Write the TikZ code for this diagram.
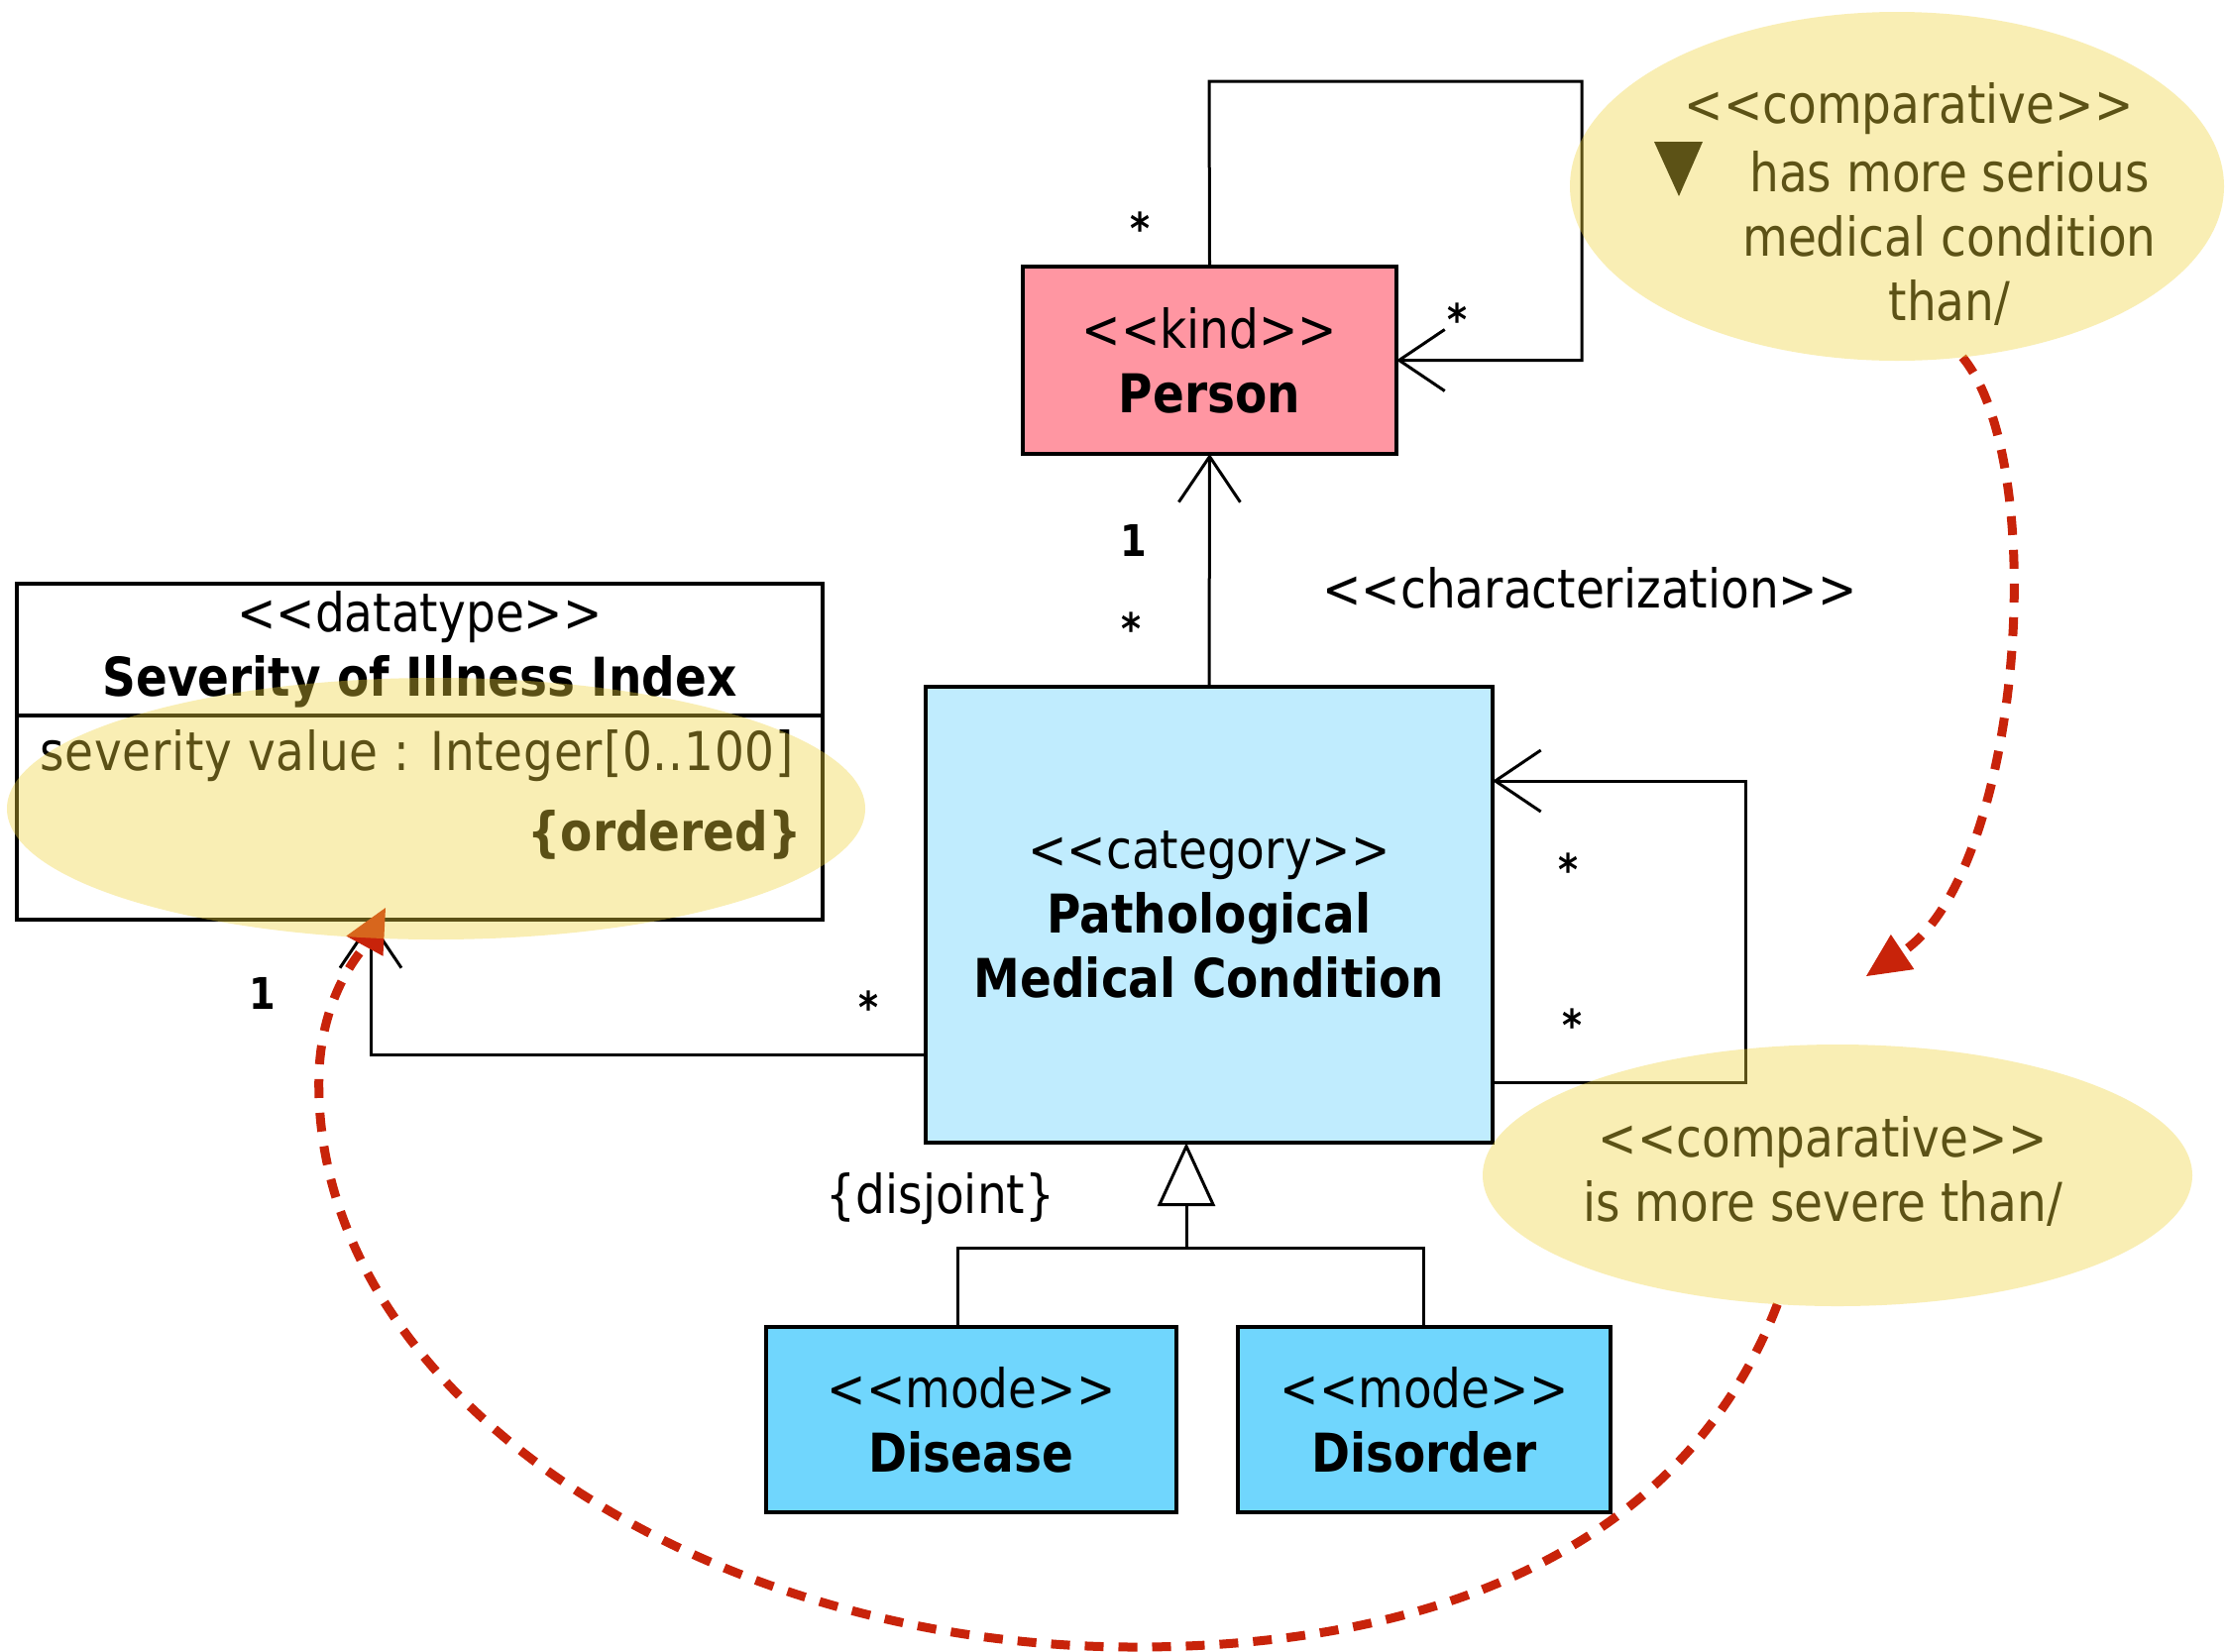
\documentclass[tikz,border=0pt]{standalone}
\usepackage{fontspec}
\setmainfont{DejaVu Sans}[FakeStretch=0.87]
\usetikzlibrary{arrows.meta,shapes.geometric,calc}
\pgfdeclarelayer{front}
\pgfsetlayers{main,front}
\definecolor{kindpink}{RGB}{255,150,162}
\definecolor{catblue}{RGB}{192,236,254}
\definecolor{modeblue}{RGB}{112,214,253}
\definecolor{notefill}{RGB}{240,212,60}
\definecolor{notetext}{RGB}{92,82,22}
\definecolor{linkred}{RGB}{200,35,10}
\newcommand{\stereo}[1]{{<}{<}#1{>}{>}}
\begin{document}
\begin{tikzpicture}[x=1pt,y=-1pt,
  txt/.style={font=\fontsize{54}{65}\selectfont, inner sep=0pt, align=center},
  cls/.style={draw=black, line width=3.6pt, txt, outer sep=0pt},
  mult/.style={font=\fontsize{44}{50}\selectfont\bfseries, inner sep=0pt},
  assoc/.style={line width=3pt, -{Straight Barb[length=46pt,width=62pt,line width=3pt]}},
  plain/.style={line width=3pt},
  gen/.style={line width=3pt, -{Triangle[open,length=64pt,width=58pt,line width=3pt]}},
  redlink/.style={draw=linkred, line width=9pt, dash pattern=on 19pt off 15pt,
    -{Triangle[length=44pt,width=42pt,line width=1pt]}},
  note/.style={ellipse, fill=notefill, fill opacity=0.38, draw=none, inner sep=0pt, outer sep=0pt},
  notetxt/.style={txt, text=notetext}
]
\fill[white] (0,0) rectangle (2245,1666);
\useasboundingbox (0,0) rectangle (2245,1666);

% classes
\node[cls, fill=kindpink, minimum width=377pt, minimum height=189pt] (person) at (1220.5,363.5)
  {\stereo{kind}\\\textbf{Person}};
\node[cls, fill=catblue, minimum width=572pt, minimum height=460pt] (pmc) at (1220,923)
  {\stereo{category}\\\textbf{Pathological}\\\textbf{Medical Condition}};
\node[cls, fill=modeblue, minimum width=414pt, minimum height=187pt] (disease) at (980,1432.5)
  {\stereo{mode}\\\textbf{Disease}};
\node[cls, fill=modeblue, minimum width=376pt, minimum height=187pt] (disorder) at (1437,1432.5)
  {\stereo{mode}\\\textbf{Disorder}};

% datatype with its attribute compartment
\node[cls, fill=white, minimum width=813pt, minimum height=339pt] (sev) at (423.5,758.5) {};
\coordinate (sevdiv) at (0,722);
\draw[line width=3.6pt] (sev.west |- sevdiv) -- (sev.east |- sevdiv);
\node[txt] (sevhead) at (423.5,655) {\stereo{datatype}\\\textbf{Severity of Illness Index}};
\node[txt, anchor=west] (sevattr) at (40,763) {\addfontfeature{LetterSpace=1.5}severity value : Integer[0..100]};
\node[txt, anchor=east] (sevord) at (809,842) {\textbf{\{ordered\}}};

% Person self association
\coordinate (pa1) at (1220,82);
\coordinate (pa2) at (1596,82);
\draw[assoc] (person.north) -- (pa1) -- (pa2) |- (person.east);
\node[mult] (mpa1) at (1150,230) {*};
\node[mult] (mpa2) at (1470,322) {*};

% characterization
\draw[assoc] (pmc.north) -- (person.south);
\node[mult] (mch1) at (1144,545) {1};
\node[mult] (mch2) at (1141,634) {*};
\node[txt] (chlabel) at (1604,593) {\stereo{characterization}};

% condition self association
\coordinate (pl1) at (1761,1092);
\coordinate (pl2) at (1761,788);
\draw[assoc] (pmc.east |- pl1) -- (pl1) -- (pl2) -- (pmc.east |- pl2);
\node[mult] (mpl1) at (1582,877) {*};
\node[mult] (mpl2) at (1586,1034) {*};

% severity association
\coordinate (sa) at (374,1064);
\draw[assoc] (pmc.west |- sa) -- (sa) -- (sev.south -| sa);
\node[mult] (msa1) at (265,1002) {1};
\node[mult] (msa2) at (876,1016) {*};

% generalization set
\coordinate (gj) at (1197,1259);
\coordinate (gL) at (966,1259);
\coordinate (gR) at (1436,1259);
\draw[gen] (gj) -- (pmc.south -| gj);
\draw[plain] (disease.north -| gL) -- (gL) -- (gR) -- (disorder.north -| gR);
\node[txt] (disj) at (949,1210) {\{disjoint\}};

% notes
\begin{pgfonlayer}{front}
\node[note, minimum width=660pt, minimum height=352pt] (noteA) at (1914,188) {};
\node[note, minimum width=716pt, minimum height=264pt] (noteB) at (1854,1186) {};
\node[note, minimum width=866pt, minimum height=264pt] (noteC) at (440,816) {};
\node[notetxt] (noteAst) at (1926,110) {\stereo{comparative}};
\node[notetxt] (noteAtx) at (1967,240) {has more serious\\medical condition\\than/};
\fill[notetext] (1669,143) -- (1718,143) -- (1694,198) -- cycle;
\node[notetxt] (noteBtx) at (1839,1182) {\stereo{comparative}\\is more severe than/};
\end{pgfonlayer}

% comparative links
\coordinate (tipA) at (1883,985);
\coordinate (tipB) at (389,916);
\draw[redlink] (noteA.-69) .. controls (2070,470) and (2040,880) .. (tipA);
\draw[redlink] (noteB.-115) .. controls (1700,1560) and (1450,1662) .. (1145,1662)
  .. controls (700,1662) and (310,1400) .. (322,1080)
  .. controls (326,1000) and (365,960) .. (tipB);
\end{tikzpicture}
\end{document}
